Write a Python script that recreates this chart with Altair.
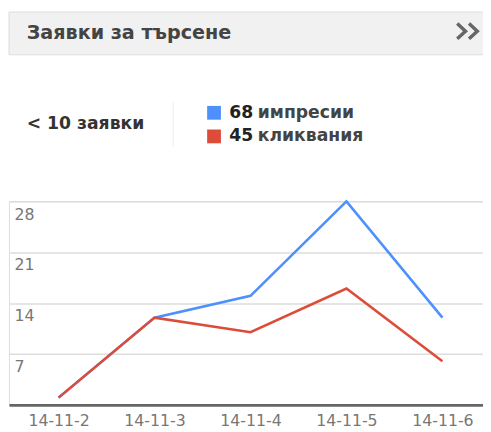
import altair as alt
import pandas as pd

dates = ["14-11-2", "14-11-3", "14-11-4", "14-11-5", "14-11-6"]
impressions = [1, 12, 15, 28, 12]
clicks = [1, 12, 10, 16, 6]
series_names = ["импресии", "кликвания"]
series_colors = ["#4d90fe", "#dd4b39"]
y_ticks = [7, 14, 21, 28]

title_text = "Заявки за търсене"
queries_text = "< 10 заявки"

rows = []
for d, v in zip(dates, impressions):
    rows.append({"date": d, "series": series_names[0], "value": v})
for d, v in zip(dates, clicks):
    rows.append({"date": d, "series": series_names[1], "value": v})
df = pd.DataFrame(rows)

total_impr = sum(impressions)
total_clicks = sum(clicks)

FONT = "DejaVu Sans"

lines = alt.Chart(df).mark_line(strokeWidth=2.6).encode(
    x=alt.X("date:N", sort=dates,
            scale=alt.Scale(type="point", padding=0.47, align=0.55),
            axis=alt.Axis(title=None, labelAngle=0, ticks=False, tickSize=0,
                          labelPadding=8, labelFontSize=16, labelColor="#777",
                          labelFont=FONT, domainColor="#666", domainWidth=3,
                          grid=False)),
    y=alt.Y("value:Q", scale=alt.Scale(domain=[0, 28], nice=False, zero=True),
            axis=alt.Axis(title=None, values=y_ticks, grid=True, gridColor="#ddd",
                          gridWidth=1.5, domain=False, ticks=False, tickSize=0,
                          labelAlign="left", labelBaseline="top", labelPadding=-5,
                          labelOffset=5, labelFontSize=16, labelColor="#777",
                          labelFont=FONT)),
    color=alt.Color("series:N", scale=alt.Scale(domain=series_names, range=series_colors),
                    legend=None),
)

header_bg = alt.Chart().mark_rect(fill="#f1f1f1", stroke="#dcdcdc", strokeWidth=1).encode(
    x=alt.value(0), x2=alt.value(484), y=alt.value(-192.5), y2=alt.value(-149))

header_title = alt.Chart().mark_text(text=title_text, align="left", baseline="middle",
                                     font=FONT, fontSize=19.5, fontWeight="bold",
                                     color="#444").encode(
    x=alt.value(18), y=alt.value(-171))

chevron_path = "M-0.85,-0.65L-0.15,0L-0.85,0.65M0.15,-0.65L0.85,0L0.15,0.65"
header_icon = alt.Chart().mark_point(shape=chevron_path, filled=False, stroke="#666",
                                     strokeWidth=3.5, size=576, opacity=1).encode(
    x=alt.value(466), y=alt.value(-173))

queries = alt.Chart().mark_text(text=queries_text, align="left", baseline="middle",
                                font=FONT, fontSize=17.5, fontWeight="bold",
                                color="#333").encode(
    x=alt.value(18), y=alt.value(-79))

sep = alt.Chart().mark_rule(color="#eeeeee", strokeWidth=1).encode(
    x=alt.value(167), y=alt.value(-101), y2=alt.value(-56))

sq_blue = alt.Chart().mark_square(size=196, color=series_colors[0], opacity=1).encode(
    x=alt.value(208.5), y=alt.value(-90))
sq_red = alt.Chart().mark_square(size=196, color=series_colors[1], opacity=1).encode(
    x=alt.value(208.5), y=alt.value(-66))

num_blue = alt.Chart().mark_text(text=str(total_impr), align="left", baseline="middle",
                                 font=FONT, fontSize=17.5, fontWeight="bold",
                                 color="#222").encode(x=alt.value(224), y=alt.value(-90))
num_red = alt.Chart().mark_text(text=str(total_clicks), align="left", baseline="middle",
                                font=FONT, fontSize=17.5, fontWeight="bold",
                                color="#222").encode(x=alt.value(224), y=alt.value(-66))
lab_blue = alt.Chart().mark_text(text=series_names[0], align="left", baseline="middle",
                                 font=FONT, fontSize=17.5, fontWeight="bold",
                                 color="#444").encode(x=alt.value(253), y=alt.value(-90))
lab_red = alt.Chart().mark_text(text=series_names[1], align="left", baseline="middle",
                                font=FONT, fontSize=17.5, fontWeight="bold",
                                color="#444").encode(x=alt.value(253), y=alt.value(-66))

chart = alt.layer(
    lines, header_bg, header_title, header_icon, queries, sep,
    sq_blue, sq_red, num_blue, num_red, lab_blue, lab_red
).properties(
    width=482, height=207,
    padding={"left": 1, "top": 193, "right": 0, "bottom": 24},
    autosize=alt.AutoSizeParams(type="none"),
).configure_view(stroke=None).configure(background="white")

chart.save("out.html", embed_options={"renderer": "svg", "actions": False})
